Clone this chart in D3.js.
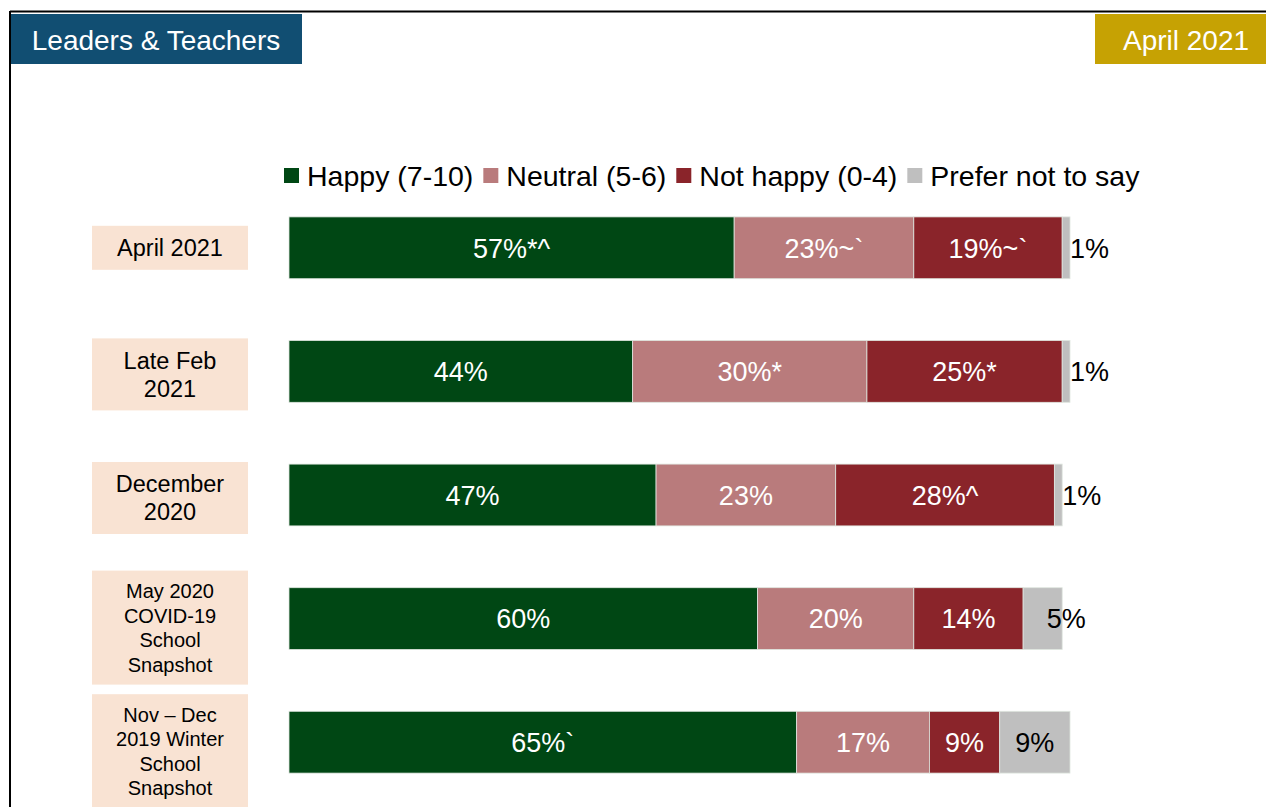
<!DOCTYPE html>
<html lang="en">
  <head>
    <meta charset="UTF-8" />
    <title>Leaders &amp; Teachers - April 2021</title>
    <style>
  body {
    margin: 0;
    background: #fff;
  }
  .chart text {
    font-family: "Liberation Sans", Arial, sans-serif;
  }
</style>
  </head>

  <body>

<div class="chart"></div>
  <script src="https://cdn.jsdelivr.net/npm/d3@7"></script>
    <script>

    // data
    var periods = [
      ["April 2021"],
      ["Late Feb", "2021"],
      ["December", "2020"],
      ["May 2020", "COVID-19", "School", "Snapshot"],
      ["Nov \u2013 Dec", "2019 Winter", "School", "Snapshot"]
    ];
    var series = ["Happy (7-10)", "Neutral (5-6)", "Not happy (0-4)", "Prefer not to say"];
    var happy    = [57, 44, 47, 60, 65];
    var neutral  = [23, 30, 23, 20, 17];
    var nothappy = [19, 25, 28, 14, 9];
    var nosay    = [1, 1, 1, 5, 9];
    var happyLabels    = ["57%*^", "44%", "47%", "60%", "65%`"];
    var neutralLabels  = ["23%~`", "30%*", "23%", "20%", "17%"];
    var nothappyLabels = ["19%~`", "25%*", "28%^", "14%", "9%"];
    var nosayLabels    = ["1%", "1%", "1%", "5%", "9%"];

    var colors = ["#004714", "#b97b7c", "#8a242a", "#bfbfbf"];

    var width = 1266;
    var height = 807;

    var svg = d3.select(".chart")
        .append("svg")
        .attr("width", width)
        .attr("height", height);

    // slide frame
    svg.append("line")
        .attr("x1", 10).attr("x2", width)
        .attr("y1", 11.5).attr("y2", 11.5)
        .attr("stroke", "#000").attr("stroke-width", 2);
    svg.append("line")
        .attr("x1", 10).attr("x2", 10)
        .attr("y1", 11).attr("y2", height)
        .attr("stroke", "#000").attr("stroke-width", 2);

    // header tags
    svg.append("rect")
        .attr("x", 11).attr("y", 14).attr("width", 291).attr("height", 50)
        .attr("fill", "#114e72");
    svg.append("text")
        .attr("x", 156).attr("y", 40).attr("dy", "0.36em")
        .attr("text-anchor", "middle")
        .attr("fill", "#fff").attr("font-size", 28)
        .text("Leaders & Teachers");
    svg.append("rect")
        .attr("x", 1095).attr("y", 14).attr("width", 171).attr("height", 50)
        .attr("fill", "#c6a203");
    svg.append("text")
        .attr("x", 1186).attr("y", 40).attr("dy", "0.36em")
        .attr("text-anchor", "middle")
        .attr("fill", "#fff").attr("font-size", 28)
        .text("April 2021");

    // stack the data
    var rows = periods.map(function(p, i) {
      return {
        period: p,
        values: [happy[i], neutral[i], nothappy[i], nosay[i]],
        labels: [happyLabels[i], neutralLabels[i], nothappyLabels[i], nosayLabels[i]]
      };
    });

    var x = d3.scaleLinear()
        .domain([0, 100])
        .range([289, 1070]);

    var y = d3.scaleBand()
        .domain(d3.range(rows.length))
        .range([186, 804])
        .paddingInner(0.5)
        .paddingOuter(0.25);

    var bars = svg.append("g").attr("id", "bars");

    rows.forEach(function(r, i) {
      var start = 0;
      var segs = r.values.map(function(v, k) {
        var s = {x0: start, x1: start + v, k: k, label: r.labels[k]};
        start += v;
        return s;
      });

      var g = bars.append("g");
      g.selectAll("rect")
        .data(segs)
        .enter()
        .append("rect")
        .attr("x", function(d) { return x(d.x0); })
        .attr("y", y(i))
        .attr("width", function(d) { return x(d.x1) - x(d.x0); })
        .attr("height", y.bandwidth())
        .attr("fill", function(d) { return colors[d.k]; })
        .attr("stroke", "#dfe6df")
        .attr("stroke-width", 0.8);

      g.selectAll("text")
        .data(segs)
        .enter()
        .append("text")
        .attr("x", function(d) {
          var narrow = d.k == 3 && x(d.x1) - x(d.x0) < 50;
          return (x(d.x0) + x(d.x1)) / 2 + (narrow ? 4 : 0);
        })
        .attr("y", y(i) + y.bandwidth() / 2)
        .attr("dy", "0.36em")
        .attr("font-size", 27)
        .attr("text-anchor", function(d) {
          // narrow grey pieces get their label pushed off to the right
          return (d.k == 3 && x(d.x1) - x(d.x0) < 50) ? "start" : "middle";
        })
        .attr("fill", function(d) { return d.k == 3 ? "#000" : "#fff"; })
        .text(function(d) { return d.label; });

      // period tag on the left (long ones are shrunk to fit)
      var n = r.period.length;
      var fs = n > 2 ? 20 : 23.5;
      var lh = n > 2 ? 24.5 : 28;
      var bh = n * lh + 16;
      var cy = y(i) + y.bandwidth() / 2 + (n - 1) * 3;
      svg.append("rect")
        .attr("x", 92).attr("width", 156)
        .attr("y", cy - bh / 2).attr("height", bh)
        .attr("fill", "#f9e3d3");
      svg.append("text")
        .attr("x", 170)
        .attr("y", cy - (n - 1) * lh / 2)
        .attr("text-anchor", "middle")
        .attr("font-size", fs)
        .attr("fill", "#000")
        .selectAll("tspan")
        .data(r.period)
        .enter()
        .append("tspan")
        .attr("x", 170)
        .attr("dy", function(d, j) { return j == 0 ? "0.36em" : lh; })
        .text(function(d) { return d; });
    });

    // legend
    var legend = svg.append("g").attr("id", "legend");
    var lx = 284;
    series.forEach(function(s, k) {
      legend.append("rect")
        .attr("x", lx).attr("y", 168)
        .attr("width", 15).attr("height", 15)
        .attr("fill", colors[k]);
      var t = legend.append("text")
        .attr("x", lx + 23).attr("y", 176).attr("dy", "0.36em")
        .attr("font-size", 28.5)
        .attr("fill", "#000")
        .text(s);
      lx = lx + 23 + t.node().getComputedTextLength() + 10;
    });

    </script>
  </body>
</html>
